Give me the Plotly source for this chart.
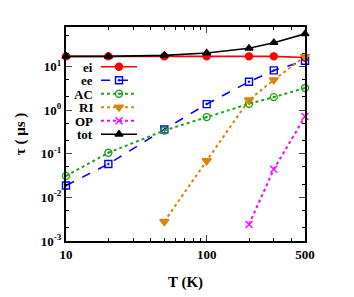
import plotly.graph_objects as go
import numpy as np

T = [10, 20, 50, 100, 200, 300, 500]
ei = [17, 17, 17, 17, 17, 17, 16]
ee = [0.0187, 0.058, 0.36, 1.37, 4.45, 8.1, 13.5]
AC = [0.031, 0.105, 0.34, 0.69, 1.39, 1.98, 3.2]
T_RI = [50, 100, 200, 300, 500]
RI = [0.0028, 0.069, 1.7, 4.9, 17]
T_OP = [200, 300, 500]
OP = [0.0024, 0.044, 0.71]
tot = [17, 17, 17.9, 20.3, 26, 35, 55.6]

FONT = "Liberation Serif"
PAGE_OFF = 8  # default body margin of the html page
W, H = 354 - PAGE_OFF, 297 - PAGE_OFF
# plot area in page pixels
PX0, PX1, PY0, PY1 = 66, 305, 27, 241
L, Tm = PX0 - PAGE_OFF, PY0 - PAGE_OFF
R = W - (PX1 - PAGE_OFF)
B = H - (PY1 - PAGE_OFF)

series = [
    ("ei", T, ei, "#ff0000", "solid", "circle", 7, 1.6),
    ("ee", T, ee, "#0000ff", "dash", "square-open-dot", 7, 1.6),
    ("AC", T, AC, "#22a022", "dot", "circle-open-dot", 7, 2),
    ("RI", T_RI, RI, "#d8860b", "dot", "triangle-down", 8, 2),
    ("OP", T_OP, OP, "#ff00ff", "dot", "x-thin-open", 7, 2),
    ("tot", T, tot, "#000000", "solid", "triangle-up", 7, 1.6),
]

fig = go.Figure()
for name, xs, ys, col, dash, sym, sz, lw in series:
    fig.add_trace(go.Scatter(
        x=xs, y=ys, mode="lines+markers", name=name,
        line=dict(color=col, dash=dash, width=lw),
        marker=dict(symbol=sym, size=sz, color=col, line=dict(color=col, width=1.4)),
        showlegend=False, cliponaxis=False))

# custom legend (text left, sample right) on a page-pixel overlay axis
leg_y = [66.7, 80.2, 93.7, 107.2, 120.7, 134.2]
for (name, xs, ys, col, dash, sym, sz, lw), yy in zip(series, leg_y):
    fig.add_trace(go.Scatter(
        x=[101, 137], y=[yy, yy], xaxis="x2", yaxis="y2", mode="lines",
        line=dict(color=col, dash=dash, width=lw), showlegend=False, hoverinfo="skip"))
    fig.add_trace(go.Scatter(
        x=[119], y=[yy], xaxis="x2", yaxis="y2", mode="markers",
        marker=dict(symbol=sym, size=sz, color=col, line=dict(color=col, width=1.4)),
        showlegend=False, hoverinfo="skip"))
    fig.add_annotation(x=94, y=yy, xref="x2", yref="y2", text="<b>%s</b>" % name,
                       showarrow=False, xanchor="right", yanchor="middle",
                       height=12, valign="middle", borderpad=0,
                       font=dict(family=FONT, size=13, color="black"))

xt_major = [10, 100, 500]
yt_vals = [1e-3, 1e-2, 1e-1, 1e0, 1e1]
yt_text = ["<b>10<sup>-3</sup></b>", "<b>10<sup>-2</sup></b>", "<b>10<sup>-1</sup></b>",
           "<b>10<sup>0</sup></b>", "<b>10<sup>1</sup></b>"]
x_minor = [20, 30, 40, 50, 60, 70, 80, 90, 200, 300, 400]
y_minor = [m * 10.0 ** e for e in range(-3, 2) for m in (2, 5)]

fig.update_layout(
    width=W, height=H,
    margin=dict(l=L, r=R, t=Tm, b=B),
    paper_bgcolor="white", plot_bgcolor="white",
    font=dict(family=FONT, size=13, color="black"),
    xaxis=dict(type="log", range=[1, np.log10(500)], tickvals=xt_major,
               ticktext=["<b>%d</b>" % v for v in xt_major],
               ticks="inside", ticklen=6, tickwidth=1, mirror="ticks",
               showline=True, linecolor="black", linewidth=2, showgrid=False,
               zeroline=False, automargin=False,
               minor=dict(tickvals=x_minor, ticks="inside", ticklen=3, tickcolor="black", showgrid=False),
               title=dict(text="<b>T (K)</b>", font=dict(family=FONT, size=15), standoff=16),
               tickfont=dict(family=FONT, size=13)),
    yaxis=dict(type="log", range=[-3, 1.903], tickvals=yt_vals, ticktext=yt_text,
               ticks="inside", ticklen=6, tickwidth=1, mirror="ticks",
               showline=True, linecolor="black", linewidth=2, showgrid=False,
               zeroline=False, automargin=False,
               minor=dict(tickvals=y_minor, ticks="inside", ticklen=3, tickcolor="black", showgrid=False),
               title=dict(text="<b>τ ( μs )</b>", font=dict(family=FONT, size=15), standoff=12),
               tickfont=dict(family=FONT, size=13)),
    xaxis2=dict(overlaying="x", range=[PX0, PX1], visible=False, fixedrange=True),
    yaxis2=dict(overlaying="y", range=[PY1, PY0], visible=False, fixedrange=True),
)

fig.write_html("out.html")
